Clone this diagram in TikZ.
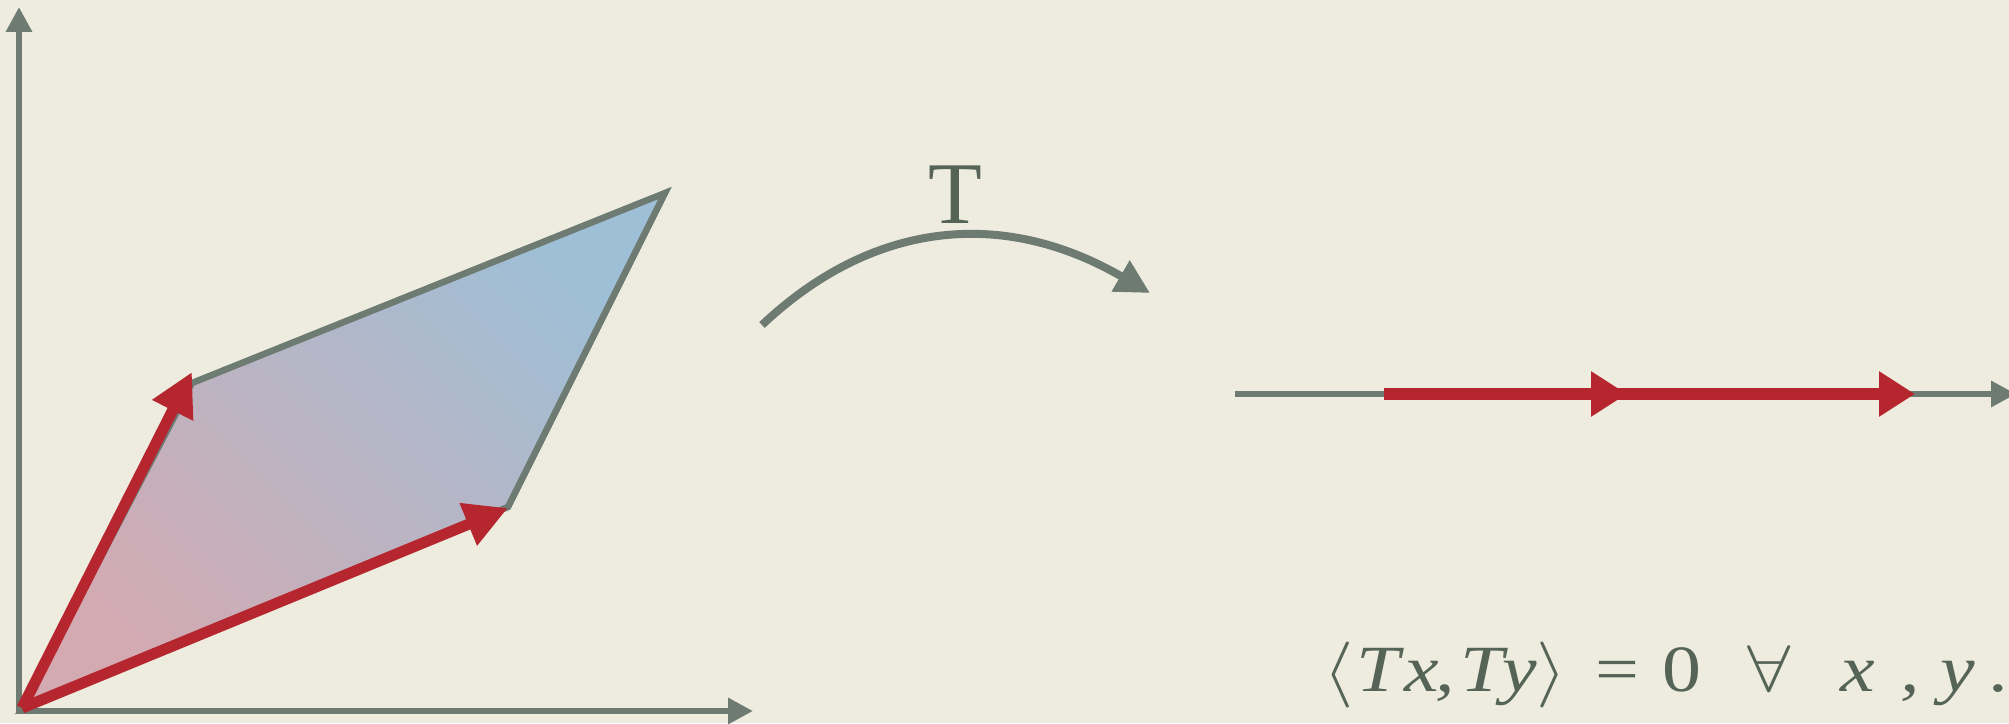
\RequirePackage{fix-cm}
\documentclass[tikz,border=0pt]{standalone}
\usepackage{graphicx}
\usepackage{fontspec}
\usetikzlibrary{arrows.meta}
\newfontfamily\labelserif{Liberation Serif}
\definecolor{bgc}{RGB}{237,236,223}
\definecolor{axisc}{RGB}{110,123,114}
\definecolor{vecred}{RGB}{182,38,46}
\definecolor{txtc}{RGB}{86,100,88}
\definecolor{pinkc}{RGB}{211,170,178}
\definecolor{bluec}{RGB}{158,191,214}
\newcommand\fgl[1]{\makebox[0pt]{\scalebox{1.18}[1]{#1}}}
\newcommand\fit[1]{\fgl{\labelserif\itshape #1}}
\newcommand\frm[1]{\fgl{\labelserif #1}}
\tikzset{
  axisline/.style={draw=axisc, line width=6.5pt, -{Triangle[length=25pt,width=25pt]}},
  vecarrow/.style={draw=vecred, line width=11pt, -{Triangle[length=43pt,width=43pt]}},
  linevec/.style={draw=vecred, line width=11.5pt, -{Triangle[length=36pt,width=43pt]}},
  maparrow/.style={draw=axisc, line width=8pt, -{Triangle[length=34pt,width=34pt]}},
}
\begin{document}
\begin{tikzpicture}[x=1pt,y=1pt]
\useasboundingbox (0,0) rectangle (2009,723);
\clip (0,0) rectangle (2009,723);
\fill[bgc] (0,0) rectangle (2009,723);
% coordinates
\coordinate (O) at (19,12);
\coordinate (ytip) at (19,716);
\coordinate (xtip) at (753,12);
\coordinate (P0) at (22,15);
\coordinate (U) at (508,216);
\coordinate (W) at (665,530);
\coordinate (V) at (192,340);
\coordinate (Vtip) at (192,351);
\coordinate (Utip) at (508,215);
% parallelogram
\path[left color=pinkc, right color=bluec, shading angle=135] (P0) -- (U) -- (W) -- (V) -- cycle;
\draw[axisc, line width=6.5pt, line join=miter] (P0) -- (U) -- (W) -- (V) -- cycle;
% axes
\draw[axisline] (19,9) -- (ytip);
\draw[axisline] (16,12) -- (xtip);
% vectors
\draw[vecarrow] (P0) -- (Vtip);
\draw[vecarrow] (P0) -- (Utip);
% map arrow
\coordinate (S) at (762,398);
\coordinate (E) at (1150,430);
\draw[maparrow] (S) .. controls (870,500) and (1000,517) .. (E);
\node[text=txtc, font=\labelserif\fontsize{88}{88}\selectfont, anchor=base] (Tlab) at (955,499) {T};
% number line
\coordinate (L0) at (1235,329);
\coordinate (Ltip) at (2016,329);
\draw[axisline] (L0) -- (Ltip);
\coordinate (R0) at (1384,329);
\coordinate (R1) at (1627,329);
\coordinate (R2) at (1915,329);
\draw[linevec] (R0) -- (R2);
\draw[linevec] (R0) -- (R1);
% formula
\node[text=txtc, font=\fontsize{66}{66}\selectfont, anchor=base west, inner sep=0pt] (F) at (1338,32)
 {\fgl{$\langle$}\hspace{40pt}\fit{T}\hspace{44pt}\fit{x}\hspace{23pt}\fit{,}\hspace{37pt}\fit{T}\hspace{38pt}\fit{y}\hspace{31pt}\fgl{$\rangle$}\hspace{66pt}\frm{=}\hspace{65pt}\frm{0}\hspace{87pt}\fgl{$\forall$}\hspace{89pt}\fit{x}\hspace{52pt}\fit{,}\hspace{48pt}\fit{y}\hspace{42pt}\fit{.}};
\end{tikzpicture}
\end{document}
